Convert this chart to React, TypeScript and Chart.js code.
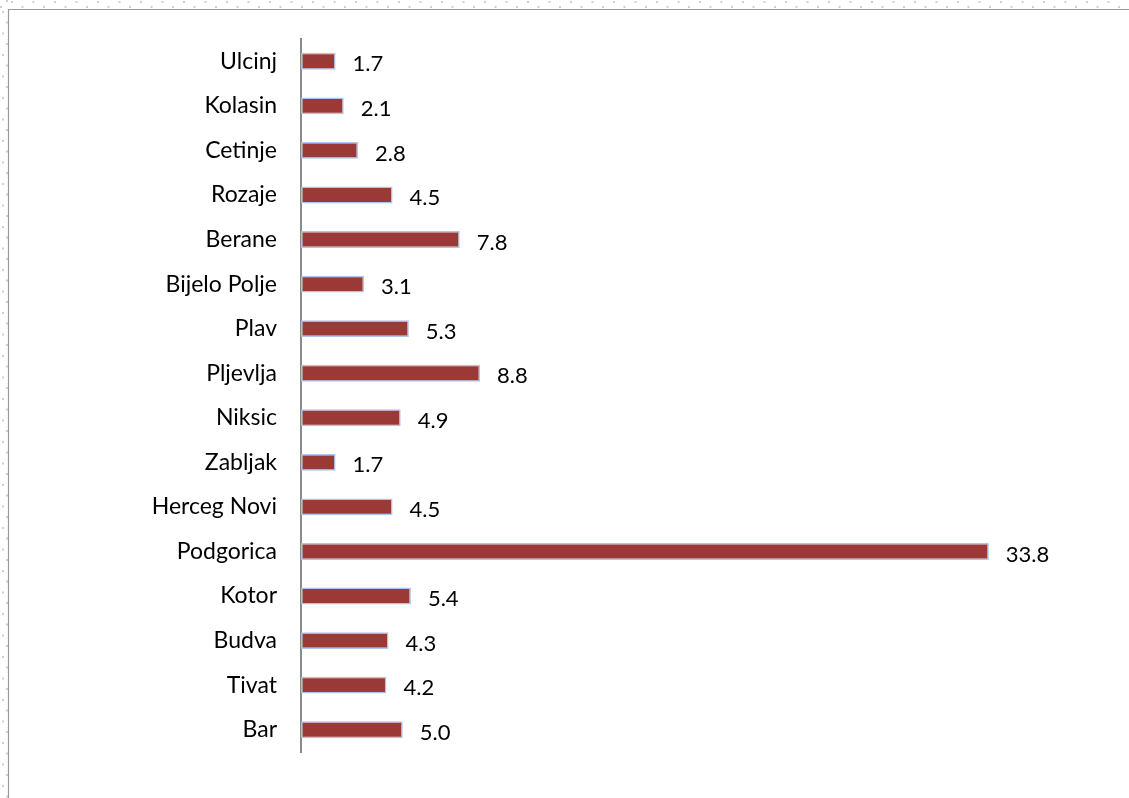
import React, { useEffect, useRef } from "react";
import { Chart, registerables } from "chart.js";

Chart.register(...registerables);

const categories = [
  "Ulcinj", "Kolasin", "Cetinje", "Rozaje", "Berane", "Bijelo Polje", "Plav", "Pljevlja",
  "Niksic", "Zabljak", "Herceg Novi", "Podgorica", "Kotor", "Budva", "Tivat", "Bar",
];
const values = [1.7, 2.1, 2.8, 4.5, 7.8, 3.1, 5.3, 8.8, 4.9, 1.7, 4.5, 33.8, 5.4, 4.3, 4.2, 5.0];

const W = 1129;
const H = 798;
const FONT = "Lato, 'Open Sans', sans-serif";

export default function App() {
  const ref = useRef<HTMLCanvasElement | null>(null);
  useEffect(() => {
    if (!ref.current) return;
    const framePlugin = {
      id: "frame",
      beforeDraw(chart: any) {
        const ctx = chart.ctx;
        ctx.save();
        ctx.fillStyle = "#ffffff";
        ctx.fillRect(0, 0, W, H);
        ctx.fillStyle = "#d0d0d0";
        for (let x = 0; x < W; x += 21.5) {
          ctx.fillRect(x + 11, 1, 2, 2);
          ctx.fillRect(x, 6, 2, 2);
        }
        for (let y = 0; y < H; y += 21.5) {
          ctx.fillRect(2, y + 11, 2, 2);
          ctx.fillRect(6, y, 2, 2);
        }
        ctx.strokeStyle = "#9a9a9a";
        ctx.lineWidth = 1.2;
        ctx.beginPath();
        ctx.moveTo(8, 9.5);
        ctx.lineTo(W, 9.5);
        ctx.moveTo(8.5, 9);
        ctx.lineTo(8.5, H);
        ctx.stroke();
        ctx.restore();
      },
    };
    const labelPlugin = {
      id: "vals",
      afterDatasetsDraw(chart: any) {
        const ctx = chart.ctx;
        const meta = chart.getDatasetMeta(0);
        ctx.save();
        ctx.fillStyle = "#000";
        ctx.font = `22px ${FONT}`;
        ctx.textAlign = "left";
        ctx.textBaseline = "middle";
        meta.data.forEach((bar: any, i: number) => {
          ctx.fillText(values[i].toFixed(1), bar.x + 17, bar.y + 3);
        });
        ctx.restore();
      },
    };
    const chart = new Chart(ref.current, {
      type: "bar",
      data: {
        labels: categories,
        datasets: [
          {
            data: values,
            backgroundColor: "#9a3936",
            borderColor: "rgba(170,195,235,0.95)",
            borderWidth: 1.5,
            borderSkipped: false,
            barPercentage: 0.38,
            categoryPercentage: 1,
          },
        ],
      },
      options: {
        indexAxis: "y",
        responsive: false,
        animation: false,
        devicePixelRatio: 1,
        layout: { padding: { left: 0, top: 39, right: 14, bottom: 46 } },
        plugins: { legend: { display: false }, tooltip: { enabled: false } },
        scales: {
          x: { display: false, min: 0, max: 40 },
          y: {
            grid: { display: false, drawTicks: false },
            border: { display: true, color: "#8a8a8a", width: 2 },
            ticks: {
              color: "#000",
              padding: 24,
              font: { family: FONT, size: 23 },
            },
            afterFit(scale: any) {
              scale.width = 301;
            },
          },
        },
      },
      plugins: [framePlugin, labelPlugin],
    });
    return () => chart.destroy();
  }, []);
  return (
    <div style={{ position: "absolute", left: 0, top: 0, width: W, height: H }}>
      <canvas ref={ref} width={W} height={H} style={{ width: W, height: H, display: "block" }} />
    </div>
  );
}
